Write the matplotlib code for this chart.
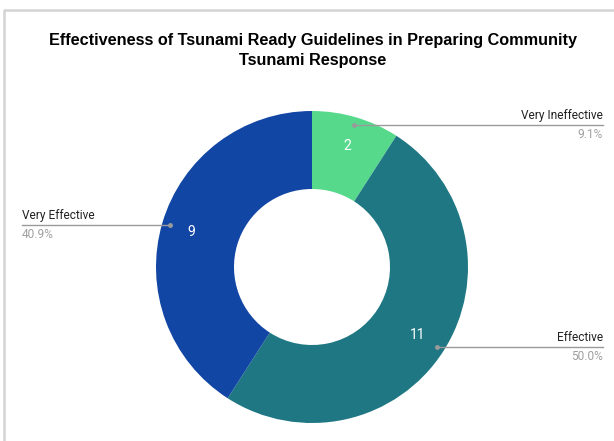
import numpy as np
import matplotlib.pyplot as plt
from matplotlib.lines import Line2D

# data
labels = ['Very Ineffective', 'Effective', 'Very Effective']
counts = [2, 11, 9]
colors = ['#57d98c', '#1e7783', '#1246a5']

W, H = 614, 441
fig = plt.figure(figsize=(W / 100, H / 100), dpi=100)
ax = fig.add_axes([0, 0, 1, 1])

# work in pixel coords measured from the top (y flipped by hand)
def Y(y):
    return H - y

cx, cy, R = 312, 267, 156

wedges, _ = ax.pie(counts, colors=colors, startangle=90, counterclock=False,
                   center=(cx, Y(cy)), radius=R, frame=True,
                   wedgeprops=dict(width=R * 0.5, linewidth=0))
ax.set_xlim(0, W)
ax.set_ylim(0, H)
ax.set_aspect('equal')
ax.axis('off')

# frame of the screenshot
ax.add_line(Line2D([4, 4, W], [Y(H), Y(10), Y(10)], color='#d4d4d4', lw=1.8))

total = sum(counts)
start = 0.0
for lab, n in zip(labels, counts):
    frac = n / total
    mid = (start + frac / 2) * 2 * np.pi
    start += frac
    sx, sy = np.sin(mid), np.cos(mid)
    ax.text(cx + 126 * sx, Y(cy) + 126 * sy, str(n), color='white', fontsize=10,
            family='Roboto', ha='center', va='center')
    dx, dy = cx + 148 * sx, Y(cy) + 148 * sy
    ax.plot([dx], [dy], 'o', color='#9a9a9a', ms=2.5)
    if sx > 0:
        ex, ha = 603, 'right'
    else:
        ex, ha = 22, 'left'
    ax.plot([dx, ex], [dy, dy], color='#9a9a9a', lw=1)
    ax.text(ex, dy + 3, lab, fontsize=8.6, family='Roboto', color='#222222',
            ha=ha, va='bottom')
    ax.text(ex, dy - 3, f'{frac * 100:.1f}%', fontsize=8.6, family='Roboto',
            color='#a0a0a0', ha=ha, va='top')

ax.text(W / 2 + 6, Y(41), 'Effectiveness of Tsunami Ready Guidelines in Preparing Community',
        fontsize=11.7, family='Liberation Sans', weight='bold', ha='center', va='center')
ax.text(W / 2 + 6, Y(61), 'Tsunami Response',
        fontsize=11.7, family='Liberation Sans', weight='bold', ha='center', va='center')

fig.savefig('out.png', dpi=100)
